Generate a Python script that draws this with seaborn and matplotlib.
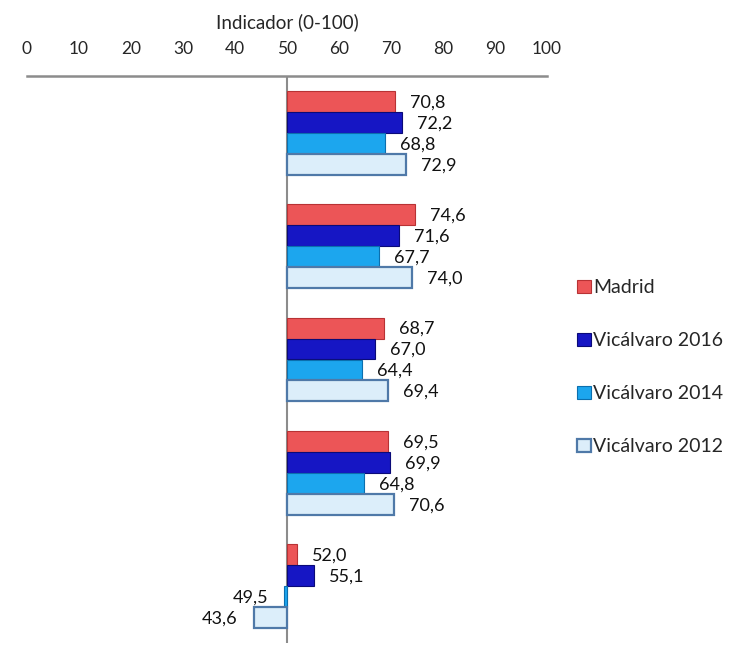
import pandas as pd
import seaborn as sns
import matplotlib.pyplot as plt

# ------------------------------------------------------
# Data
# ------------------------------------------------------
groups = ["G1", "G2", "G3", "G4", "G5"]
series = ["Madrid", "Vicálvaro 2016", "Vicálvaro 2014", "Vicálvaro 2012"]
madrid = [70.8, 74.6, 68.7, 69.5, 52.0]
vic_2016 = [72.2, 71.6, 67.0, 69.9, 55.1]
vic_2014 = [68.8, 67.7, 64.4, 64.8, 49.5]
vic_2012 = [72.9, 74.0, 69.4, 70.6, 43.6]
base = 50  # the vertical axis crosses at 50
xticks = [0, 10, 20, 30, 40, 50, 60, 70, 80, 90, 100]

face_colors = ["#EC5557", "#1616C4", "#1CA6EE", "#DCEEFA"]
edge_colors = ["#B83234", "#0A0A78", "#0B6FAE", "#4F79A8"]

rows = []
for s, vals in zip(series, [madrid, vic_2016, vic_2014, vic_2012]):
    for g, v in zip(groups, vals):
        rows.append({"group": g, "serie": s, "value": v, "delta": v - base})
df = pd.DataFrame(rows)

# ------------------------------------------------------
# Plot
# ------------------------------------------------------
sns.set_theme(style="white")
plt.rcParams["font.family"] = ["Lato", "DejaVu Sans"]

fig = plt.figure(figsize=(7.31, 6.49), dpi=100)
ax = fig.add_axes([27 / 731, 6 / 649, 520 / 731, 567 / 649])

sns.barplot(data=df, y="group", x="delta", hue="serie", order=groups,
            hue_order=series, palette=dict(zip(series, face_colors)),
            orient="h", left=base, width=0.74, gap=0, errorbar=None,
            saturation=1, ax=ax, legend=False)

for cont, ec, s in zip(ax.containers, edge_colors, series):
    vals = df[df["serie"] == s]["value"].tolist()
    for bar, v in zip(cont, vals):
        bar.set_edgecolor(ec)
        bar.set_linewidth(1.6 if s == "Vicálvaro 2012" else 0.8)
        yc = bar.get_y() + bar.get_height() / 2
        txt = f"{v:.1f}".replace(".", ",")
        if v >= base:
            ax.annotate(txt, (v, yc), xytext=(15, -1), textcoords="offset pixels",
                        ha="left", va="center", fontsize=13, color="#111111")
        else:
            ax.annotate(txt, (v, yc), xytext=(-16, -1), textcoords="offset pixels",
                        ha="right", va="center", fontsize=13, color="#111111")

ax.set_xlim(0, 100)
ax.set_xticks(xticks)
ax.xaxis.tick_top()
ax.xaxis.set_label_position("top")
ax.set_xlabel("Indicador (0-100)", fontsize=13.5, labelpad=9)
ax.tick_params(axis="x", length=0, pad=14, labelsize=12.5)
ax.set_ylabel("")
ax.set_yticks([])
for side in ["left", "right", "bottom"]:
    ax.spines[side].set_visible(False)
ax.spines["top"].set_color("#8C8C8C")
ax.spines["top"].set_linewidth(1.8)
ax.axvline(base, color="#8C8C8C", linewidth=1.5, zorder=0)

ax.legend(handles=[c.patches[0] for c in ax.containers], labels=series,
          loc="center left", bbox_to_anchor=(0.776, 0.434),
          bbox_transform=fig.transFigure, frameon=False, fontsize=14,
          handlelength=0.7, handleheight=0.7, handletextpad=0.12,
          labelspacing=1.85, borderpad=0)

fig.savefig("out.png", dpi=100)
